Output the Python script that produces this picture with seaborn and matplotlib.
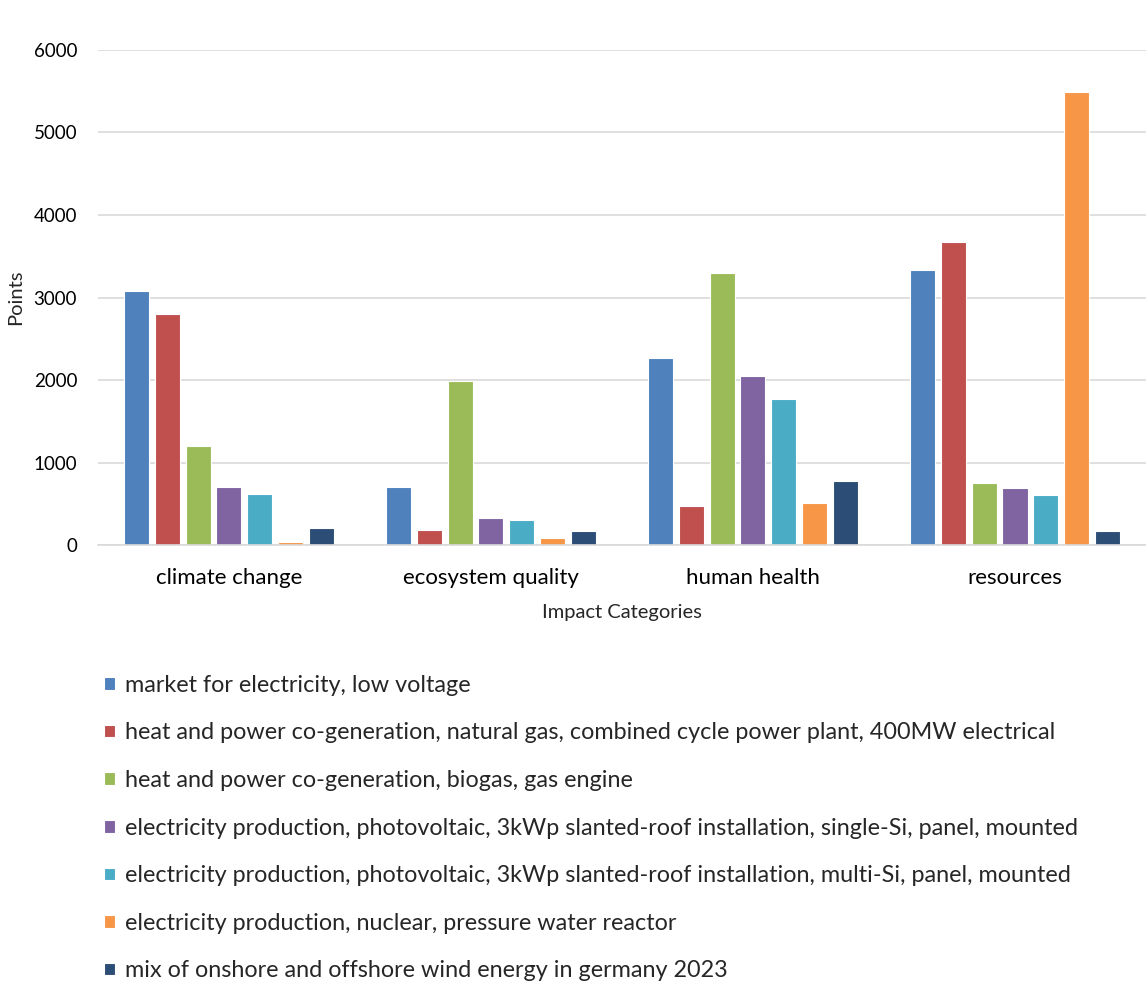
import numpy as np
import pandas as pd
import matplotlib
matplotlib.use("Agg")
import matplotlib.pyplot as plt
import seaborn as sns

# Impact categories on the x axis
categories = ["climate change", "ecosystem quality", "human health", "resources"]

# Electricity sources (one bar per source in every category)
sources = [
    "market for electricity, low voltage",
    "heat and power co-generation, natural gas, combined cycle power plant, 400MW electrical",
    "heat and power co-generation, biogas, gas engine",
    "electricity production, photovoltaic, 3kWp slanted-roof installation, single-Si, panel, mounted",
    "electricity production, photovoltaic, 3kWp slanted-roof installation, multi-Si, panel, mounted",
    "electricity production, nuclear, pressure water reactor",
    "mix of onshore and offshore wind energy in germany 2023",
]

# Weighted points per source, ordered like `categories`
market_low_voltage = [3080, 707, 2265, 3334]
chp_natural_gas = [2795, 190, 479, 3669]
chp_biogas = [1204, 1986, 3293, 750]
pv_single_si = [713, 327, 2056, 698]
pv_multi_si = [621, 311, 1773, 613]
nuclear_pwr = [36, 90, 512, 5482]
wind_mix_2023 = [210, 174, 778, 181]

series = [market_low_voltage, chp_natural_gas, chp_biogas, pv_single_si,
          pv_multi_si, nuclear_pwr, wind_mix_2023]

colors = ["#4F81BD", "#C0504D", "#9BBB59", "#8064A2", "#4BACC6", "#F79646", "#2C4D75"]

y_ticks = [0, 1000, 2000, 3000, 4000, 5000, 6000]

rows = []
for src, vals in zip(sources, series):
    for cat, v in zip(categories, vals):
        rows.append({"category": cat, "source": src, "points": v})
df = pd.DataFrame(rows)

sns.set_theme(style="white")
plt.rcParams["font.family"] = ["Lato", "DejaVu Sans"]

fig = plt.figure(figsize=(11.46, 9.83), dpi=100)
ax = fig.add_axes([0.0855, 0.4451, 0.9145, 0.5045])

sns.barplot(
    data=df, x="category", y="points", hue="source",
    order=categories, hue_order=sources, palette=colors,
    width=0.825, gap=0.19, errorbar=None,
    edgecolor="white", linewidth=0.8, saturation=1, ax=ax,
)

ax.set_ylim(0, 6000)
ax.set_xlim(-0.5, len(categories) - 0.5)
ax.set_yticks(y_ticks)
ax.set_yticklabels([str(t) for t in y_ticks])
ax.yaxis.grid(True, color="#D9D9D9", linewidth=1.2)
ax.set_axisbelow(True)
for side in ["top", "right", "left"]:
    ax.spines[side].set_visible(False)
ax.spines["bottom"].set_color("#D9D9D9")
ax.spines["bottom"].set_linewidth(1.2)
ax.tick_params(axis="both", length=0, colors="#000000")
ax.tick_params(axis="y", labelsize=13.5, pad=15)
ax.tick_params(axis="x", labelsize=16, pad=16)

ax.set_xlabel("Impact Categories", fontsize=14.5, labelpad=12)
ax.set_ylabel("Points", fontsize=14.5, labelpad=7)

handles, labels = ax.get_legend_handles_labels()
ax.get_legend().remove()
fig.legend(
    handles, labels, loc="upper left", bbox_to_anchor=(0.083, 0.323),
    frameon=False, fontsize=16.8, handlelength=0.45, handleheight=0.45,
    handletextpad=0.45, labelspacing=1.14, borderaxespad=0,
)

fig.savefig("out.png", dpi=100, facecolor="white")
